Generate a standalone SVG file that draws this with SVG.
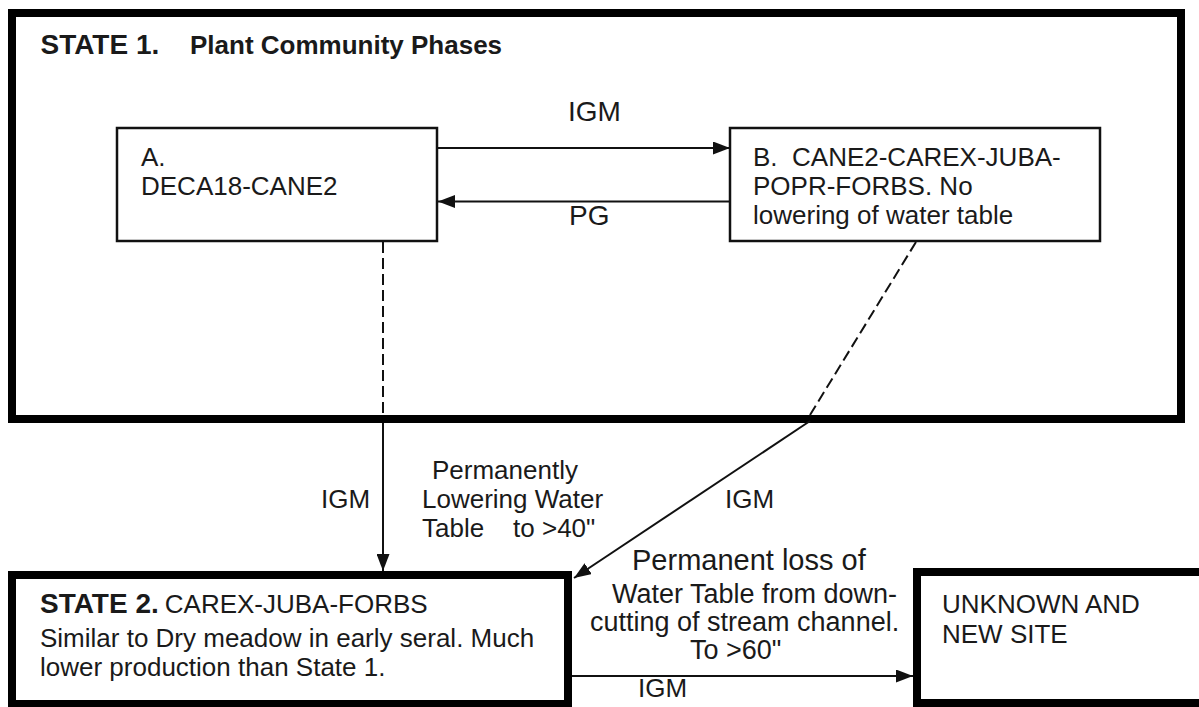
<svg xmlns="http://www.w3.org/2000/svg" width="1199" height="707" viewBox="0 0 1199 707">
<style>
text{font-family:"Liberation Sans",Arial,sans-serif;fill:#1a1a1a}
.b{font-weight:bold}
.t28{font-size:28px}
.t26{font-size:26px}
.t27{font-size:27px}
.t29{font-size:29px}
.thick{fill:#fff;stroke:#000;stroke-width:8}
.thin{fill:#fff;stroke:#111;stroke-width:2.5}
.con{stroke:#111;stroke-width:2;fill:none}
.dash{stroke:#111;stroke-width:2;fill:none;stroke-dasharray:11 5}
</style>
<defs>
<marker id="ah" markerUnits="userSpaceOnUse" markerWidth="17" markerHeight="13" refX="17" refY="6.5" orient="auto">
<path d="M0,0 L17,6.5 L0,13 Z" fill="#111"/>
</marker>
</defs>
<rect width="1199" height="707" fill="#fff"/>
<g id="state1">
<rect class="thick" x="12" y="13" width="1169" height="406"/>
<text class="t28 b" x="40.5" y="54">STATE 1.</text>
<text class="t26 b" x="190" y="54">Plant Community Phases</text>
</g>
<g id="phaseA">
<rect class="thin" x="117" y="128" width="320" height="113"/>
<text class="t26" x="141" y="166">A.</text>
<text class="t26" x="141" y="195">DECA18-CANE2</text>
</g>
<g id="phaseB">
<rect class="thin" x="730" y="128" width="370" height="113"/>
<text class="t26" x="753" y="166" xml:space="preserve">B.  CANE2-CAREX-JUBA-</text>
<text class="t26" x="753" y="195">POPR-FORBS. No</text>
<text class="t26" x="753" y="224">lowering of water table</text>
</g>
<g id="state2">
<rect class="thick" x="12" y="575" width="556" height="129"/>
<text x="40" y="613"><tspan class="t28 b">STATE 2.</tspan><tspan class="t26" dx="6">CAREX-JUBA-FORBS</tspan></text>
<text class="t26" x="40" y="647">Similar to Dry meadow in early seral. Much</text>
<text class="t26" x="40" y="676">lower production than State 1.</text>
</g>
<g id="unknown">
<rect class="thick" x="917" y="572" width="300" height="131"/>
<text class="t26" x="942" y="613">UNKNOWN AND</text>
<text class="t26" x="942" y="643">NEW SITE</text>
</g>
<g id="connectors">
<line class="con" x1="438" y1="148" x2="730" y2="148" marker-end="url(#ah)"/>
<line class="con" x1="730" y1="201.5" x2="438" y2="201.5" marker-end="url(#ah)"/>
<line class="dash" x1="383" y1="242" x2="383" y2="415"/>
<line class="dash" x1="916" y1="242" x2="810" y2="415"/>
<line class="con" x1="383" y1="423" x2="383" y2="571" marker-end="url(#ah)"/>
<line class="con" x1="810" y1="421" x2="574" y2="578" marker-end="url(#ah)"/>
<line class="con" x1="572" y1="676" x2="913" y2="676" marker-end="url(#ah)"/>
</g>
<g id="labels">
<text class="t28" x="568" y="121">IGM</text>
<text class="t28" x="569" y="225">PG</text>
<text class="t26" x="321" y="508">IGM</text>
<text class="t26" x="432" y="479">Permanently</text>
<text class="t26" x="422" y="508">Lowering Water</text>
<text class="t26" x="422" y="537" xml:space="preserve">Table    to &gt;40"</text>
<text class="t26" x="725" y="508">IGM</text>
<text class="t29" x="632" y="570">Permanent loss of</text>
<text class="t27" x="612" y="603">Water Table from down-</text>
<text class="t27" x="590" y="631">cutting of stream channel.</text>
<text class="t27" x="690" y="659">To &gt;60"</text>
<text class="t26" x="638" y="697">IGM</text>
</g>
</svg>
